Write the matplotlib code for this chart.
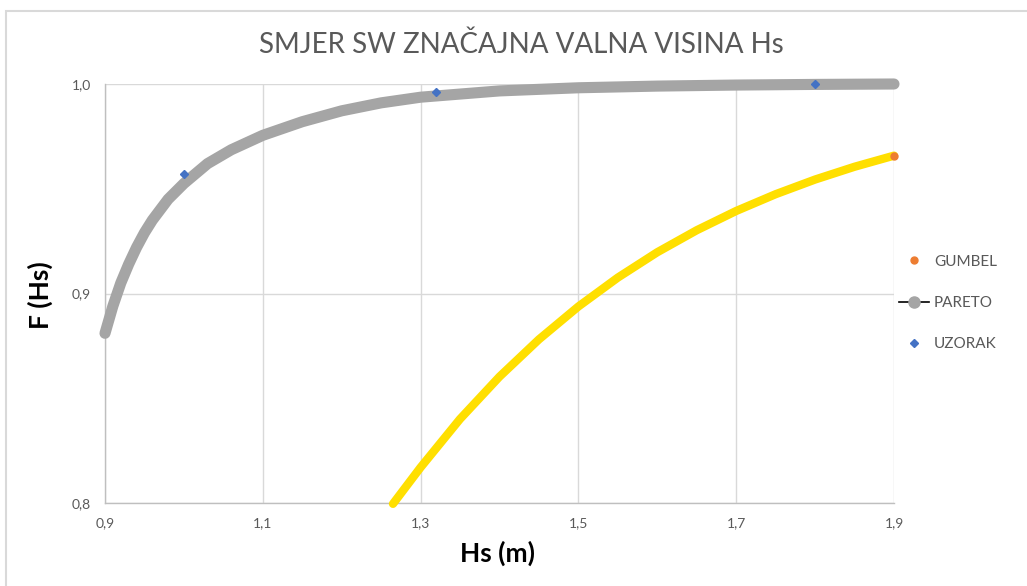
import matplotlib.pyplot as plt
from matplotlib.lines import Line2D
from matplotlib.patches import Rectangle
from matplotlib.ticker import FuncFormatter

# vrijednosti ocitane s grafa
pareto_hs = [0.90, 0.91, 0.92, 0.93, 0.94, 0.95, 0.96, 0.97, 0.98, 1.00, 1.03,
             1.06, 1.10, 1.15, 1.20, 1.25, 1.30, 1.40, 1.50, 1.60, 1.70, 1.80, 1.90]
pareto_f = [0.881, 0.894, 0.905, 0.914, 0.922, 0.929, 0.935, 0.940, 0.945, 0.9525,
            0.962, 0.9686, 0.9755, 0.982, 0.9872, 0.991, 0.9937, 0.9967, 0.9982,
            0.999, 0.9995, 0.9998, 1.0]

gumbel_hs = [1.265, 1.30, 1.35, 1.40, 1.45, 1.50, 1.55, 1.60, 1.65,
             1.70, 1.75, 1.80, 1.85, 1.90]
gumbel_f = [0.7996, 0.817, 0.8401, 0.8603, 0.8781, 0.8938, 0.9076, 0.9197, 0.9302,
            0.9394, 0.9474, 0.9544, 0.9605, 0.9658]

uzorak_hs = [1.00, 1.32, 1.80]
uzorak_f = [0.957, 0.9963, 0.9998]

x_ticks = [0.9, 1.1, 1.3, 1.5, 1.7, 1.9]
y_ticks = [0.8, 0.9, 1.0]

plt.rcParams['font.family'] = ['Lato', 'DejaVu Sans']
txt = '#595959'

fig = plt.figure(figsize=(10.27, 5.86), dpi=100)
# okvir grafa (Excel)
fig.patches.append(Rectangle((6 / 1027, -0.1), 1.2, 1 - 11 / 586 + 0.1,
                             transform=fig.transFigure, fill=False,
                             edgecolor='#d9d9d9', linewidth=1.5))
ax = fig.add_axes([105 / 1027, 1 - 503 / 586, 789 / 1027, 419 / 586])

ax.plot(pareto_hs, pareto_f, color='#a5a5a5', linewidth=8,
        solid_capstyle='round', solid_joinstyle='round', zorder=3, clip_on=False)
ax.plot(gumbel_hs, gumbel_f, color='#ffdf00', linewidth=6,
        solid_capstyle='round', solid_joinstyle='round', zorder=3, clip_on=False)
ax.plot(gumbel_hs[-1], gumbel_f[-1], 'o', color='#ed7d31', markersize=5,
        zorder=4, clip_on=False)
ax.plot(uzorak_hs, uzorak_f, 'D', color='#4472c4', markersize=4.5, zorder=5,
        clip_on=False)

ax.set_xlim(0.9, 1.9)
ax.set_ylim(0.8, 1.0)
ax.set_xticks(x_ticks)
ax.set_yticks(y_ticks)
ax.xaxis.set_major_formatter(FuncFormatter(lambda v, p: f'{v:.1f}'.replace('.', ',')))
ax.yaxis.set_major_formatter(FuncFormatter(lambda v, p: f'{v:.1f}'.replace('.', ',')))
ax.tick_params(length=0, labelsize=10, colors=txt, pad=10)
ax.grid(True, color='#d9d9d9', linewidth=1)
ax.set_axisbelow(True)
for s in ['top', 'right']:
    ax.spines[s].set_visible(False)
for s in ['left', 'bottom']:
    ax.spines[s].set_color('#bfbfbf')
    ax.spines[s].set_linewidth(1)

fig.text(521 / 1027, 1 - 45 / 586, 'SMJER SW ZNAČAJNA VALNA VISINA Hs',
         ha='center', va='center', fontsize=20, color=txt)
fig.text(498 / 1027, 1 - 553 / 586, 'Hs (m)', ha='center', va='center',
         fontsize=19, fontweight='bold', color='black')
fig.text(40 / 1027, 1 - 295 / 586, 'F (Hs)', ha='center', va='center',
         rotation=90, fontsize=19, fontweight='bold', color='black')

handles = [
    Line2D([], [], linestyle='none', marker='o', color='#ed7d31', markersize=5),
    Line2D([], [], color='black', linewidth=1.2, marker='o',
           markerfacecolor='#a5a5a5', markeredgecolor='#a5a5a5', markersize=8),
    Line2D([], [], linestyle='none', marker='D', color='#4472c4', markersize=4.5),
]
fig.legend(handles, ['GUMBEL', 'PARETO', 'UZORAK'], loc='center left',
           bbox_to_anchor=(885 / 1027, 1 - 303 / 586), frameon=False,
           fontsize=11, labelcolor=txt, labelspacing=1.8, handlelength=2,
           handletextpad=0.3)

fig.savefig('out.png', dpi=100)
